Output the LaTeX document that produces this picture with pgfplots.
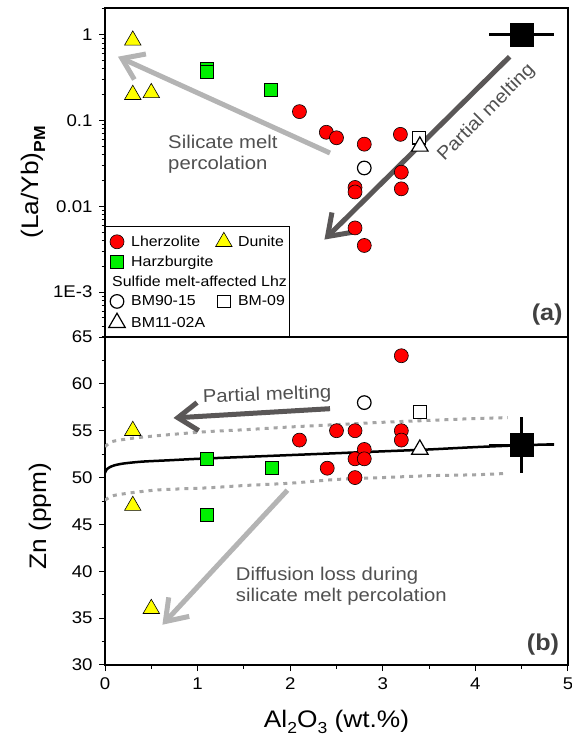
\documentclass[border=0pt]{standalone}
\usepackage{fontspec}
\setmainfont{Liberation Sans}[FakeStretch=1.1]
\usepackage{pgfplots}
\pgfplotsset{compat=1.18}
\usetikzlibrary{arrows.meta}
\definecolor{cred}{RGB}{255,0,0}
\definecolor{cyel}{RGB}{255,255,0}
\definecolor{cgrn}{RGB}{0,240,0}
\definecolor{darkarrow}{RGB}{90,87,87}
\definecolor{lightarrow}{RGB}{180,180,180}
\definecolor{txtgray}{RGB}{80,80,80}
\definecolor{dotgray}{RGB}{165,165,165}
\definecolor{lblgray}{RGB}{64,64,64}

\tikzset{annot/.style={text=txtgray, font=\fontsize{18.5}{21}\selectfont}}
\pgfplotsset{
  common/.style={
    scale only axis, width=463bp, xmin=0, xmax=5,
    axis line style={line width=1.2bp},
    every tick/.style={line width=1bp, black},
    major tick length=6bp, minor tick length=3.5bp,
    tick align=outside,
    tick pos=left,
    /pgf/number format/assume math mode=true,
    tick label style={font=\fontsize{17}{18}\selectfont},
    xticklabel style={yshift=-3bp},
    yticklabel style={xshift=-3bp},
    label style={font=\fontsize{24}{26}\selectfont},
  },
  lhz/.style={only marks, mark=*, mark size=7bp, mark options={fill=cred, draw=black, line width=0.6bp}},
  dun/.style={only marks, mark=triangle*, mark size=9.5bp, mark options={fill=cyel, draw=black, line width=0.6bp}},
  hzb/.style={only marks, mark=square*, mark size=6.5bp, mark options={fill=cgrn, draw=black, line width=0.6bp}},
  ocirc/.style={only marks, mark=*, mark size=6.8bp, mark options={fill=white, draw=black, line width=1.2bp}},
  osq/.style={only marks, mark=square*, mark size=6.3bp, mark options={fill=white, draw=black, line width=1.2bp}},
  otri/.style={only marks, mark=triangle*, mark size=9.5bp, mark options={fill=white, draw=black, line width=1.2bp}},
  bigarrow/.style={forget plot, line width=5bp, -{Straight Barb[length=20bp,width=28bp]}},
  pm/.style={forget plot, only marks, mark=square*, mark size=11.5bp, mark options={fill=black, draw=black}},
}

\begin{document}
\begin{tikzpicture}
% ---------------- (a) ----------------
\begin{axis}[common, at={(105bp,403bp)}, anchor=south west, height=329bp,
  ymode=log, ymin=3e-4, ymax=2.05,
  xtick=\empty,
  ytick={0.001,0.01,0.1,1}, yticklabels={1E-3,0.01,0.1,1},
  minor ytick={3e-4,4e-4,5e-4,6e-4,7e-4,8e-4,9e-4,2e-3,3e-3,4e-3,5e-3,6e-3,7e-3,8e-3,9e-3,0.02,0.03,0.04,0.05,0.06,0.07,0.08,0.09,0.2,0.3,0.4,0.5,0.6,0.7,0.8,0.9,2},
  ylabel={(La/Yb)\raisebox{-0.5ex}{\fontsize{16}{16}\selectfont\bfseries PM}},
  ylabel style={at={(axis description cs:-0.155,0.47)}, anchor=center},
  legend columns=2,
  legend cell align=left,
  legend style={at={(0,0)}, anchor=south west, draw=black, line width=1bp, fill=white,
    font=\fontsize{14.5}{17}\selectfont, inner xsep=3bp, inner ysep=6bp, row sep=4bp,
    /tikz/every odd column/.append style={column sep=4bp},
    /tikz/every even column/.append style={column sep=0bp}},
]
\addplot[bigarrow, lightarrow] coordinates {(2.43,0.0418) (0.14,0.555)};
\addplot[bigarrow, darkarrow] coordinates {(4.37,0.555) (2.37,0.0041)};
\node[annot, anchor=west, align=left] at (axis cs:0.645,0.04) {Silicate melt\\percolation};
\node[annot, rotate=45] at (axis cs:4.12,0.123) {Partial melting};

\addplot[lhz] coordinates {(2.1,0.127) (2.39,0.073) (2.5,0.063) (2.8,0.053) (3.19,0.069) (3.2,0.025) (3.2,0.016) (2.7,0.0166) (2.7,0.0147) (2.7,0.0056) (2.8,0.0035)};
\addlegendentry{Lherzolite}
\addplot[dun] coordinates {(0.3,0.86) (0.3,0.20) (0.5,0.21)};
\addlegendentry{Dunite}
\addplot[hzb] coordinates {(1.1,0.405) (1.1,0.37) (1.79,0.227)};
\addlegendentry{Harzburgite}
\addlegendimage{empty legend}\addlegendentry{}
\addlegendimage{empty legend}\addlegendentry{\rlap{\hspace*{-19bp}Sulfide melt-affected Lhz}}
\addlegendimage{empty legend}\addlegendentry{}
\addplot[ocirc] coordinates {(2.8,0.028)};
\addlegendentry{BM90-15}
\addplot[osq] coordinates {(3.39,0.063)};
\addlegendentry{BM-09}
\addplot[otri] coordinates {(3.4,0.050)};
\addlegendentry{BM11-02A}
\addplot[pm, error bars/.cd, x dir=both, x explicit, error mark=none, error bar style={line width=2.5bp, black}] coordinates {(4.5,1) +- (0.35,0)};
\node[font=\fontsize{23}{25}\selectfont\bfseries, text=lblgray] at (rel axis cs:0.955,0.067) {(a)};
\end{axis}

% ---------------- (b) ----------------
\begin{axis}[common, at={(105bp,75bp)}, anchor=south west, height=328bp,
  ymin=30, ymax=65, ytick={30,35,...,65}, minor y tick num=1,
  xtick={0,1,2,3,4,5}, minor x tick num=1,
  xlabel={Al\raisebox{-0.45ex}{\fontsize{16}{16}\selectfont 2}O\raisebox{-0.45ex}{\fontsize{16}{16}\selectfont 3} (wt.\%)},
  xlabel style={at={(axis description cs:0.5,-0.192)}, anchor=base},
  ylabel={Zn (ppm)},
  ylabel style={at={(axis description cs:-0.14,0.454)}, anchor=center},
]
\addplot[forget plot, dotgray, line width=3bp, dash pattern=on 4bp off 5bp, smooth] coordinates {(0,53.3) (0.05,53.7) (0.1,53.9) (0.3,54.2) (0.6,54.5) (1.1,54.9) (1.5,55.1) (2.0,55.4) (2.5,55.65) (3.0,55.9) (3.5,56.1) (4.0,56.3) (4.35,56.4)};
\addplot[forget plot, dotgray, line width=3bp, dash pattern=on 4bp off 5bp, smooth] coordinates {(0,47.6) (0.05,47.9) (0.1,48.1) (0.3,48.4) (0.6,48.7) (1.1,48.9) (1.5,49.15) (2.0,49.4) (2.5,49.8) (3.0,50.0) (3.5,50.2) (4.0,50.3) (4.35,50.45)};
\addplot[forget plot, black, line width=2.5bp, smooth] coordinates {(0,50.5) (0.02,50.9) (0.05,51.1) (0.1,51.3) (0.2,51.5) (0.4,51.7) (0.7,51.85) (1.0,52.0) (1.5,52.2) (2.0,52.4) (2.5,52.6) (3.0,52.8) (3.5,53.0) (4.0,53.25) (4.5,53.45) (4.85,53.55)};
\addplot[bigarrow, darkarrow] coordinates {(2.43,57.35) (0.74,56.36)};
\addplot[bigarrow, lightarrow] coordinates {(1.97,48.65) (0.62,34.3)};
\node[annot, rotate=2] at (axis cs:1.75,58.75) {Partial melting};
\node[annot, anchor=west, align=left] at (axis cs:1.376,38.4) {Diffusion loss during\\silicate melt percolation};

\addplot[lhz] coordinates {(3.2,63) (3.2,55) (3.2,54) (2.1,54) (2.5,55) (2.7,55) (2.8,53) (2.7,52) (2.8,52) (2.4,51) (2.7,50)};
\addplot[dun] coordinates {(0.3,55) (0.3,47) (0.5,36)};
\addplot[hzb] coordinates {(1.1,52) (1.1,46) (1.8,51)};
\addplot[ocirc] coordinates {(2.8,58)};
\addplot[osq] coordinates {(3.4,57)};
\addplot[otri] coordinates {(3.4,53)};
\addplot[pm, error bars/.cd, x dir=both, x explicit, y dir=both, y explicit, error mark=none, error bar style={line width=2.5bp, black}] coordinates {(4.5,53.5) +- (0.35,3)};
\node[font=\fontsize{23}{25}\selectfont\bfseries, text=lblgray] at (rel axis cs:0.946,0.061) {(b)};
\end{axis}
\pgfresetboundingbox
\path (0,0) rectangle (572bp,740bp);
\end{tikzpicture}
\end{document}
